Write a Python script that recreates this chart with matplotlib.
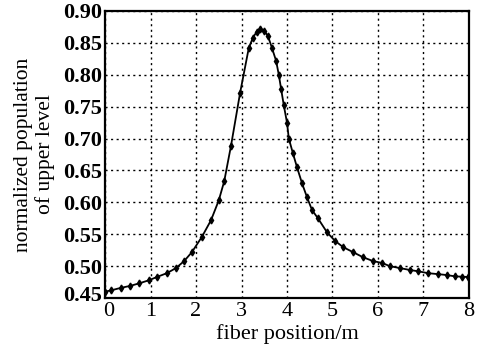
import matplotlib
matplotlib.use("Agg")
import matplotlib.pyplot as plt
import matplotlib.transforms as mtransforms

# fiber position (m) and normalized upper level population
position = [0.00, 0.13, 0.35, 0.55, 0.75, 0.97, 1.14, 1.36, 1.56, 1.74, 1.91,
            2.13, 2.33, 2.50, 2.62, 2.77, 2.97, 3.16, 3.25, 3.33, 3.41, 3.50,
            3.58, 3.67, 3.76, 3.82, 3.87, 3.93, 4.00, 4.04, 4.13, 4.22, 4.33,
            4.44, 4.55, 4.68, 4.88, 5.05, 5.23, 5.45, 5.67, 5.89, 6.09, 6.26,
            6.48, 6.70, 6.88, 7.10, 7.32, 7.52, 7.69, 7.85, 7.98]
population = [0.460, 0.462, 0.466, 0.469, 0.473, 0.478, 0.483, 0.489, 0.497,
              0.508, 0.522, 0.546, 0.572, 0.603, 0.633, 0.689, 0.772, 0.842,
              0.858, 0.867, 0.872, 0.869, 0.861, 0.842, 0.822, 0.800, 0.778,
              0.752, 0.725, 0.700, 0.677, 0.655, 0.630, 0.608, 0.588, 0.575,
              0.553, 0.540, 0.530, 0.522, 0.514, 0.508, 0.505, 0.500, 0.497,
              0.494, 0.492, 0.489, 0.4875, 0.486, 0.484, 0.4835, 0.483]

xticks = [0, 1, 2, 3, 4, 5, 6, 7, 8]
yticks = [0.45, 0.50, 0.55, 0.60, 0.65, 0.70, 0.75, 0.80, 0.85, 0.90]

plt.rcParams['font.family'] = ['Liberation Serif', 'DejaVu Serif']

fig = plt.figure(figsize=(4.83, 3.49), dpi=100)
ax = fig.add_axes([0.2174, 0.146, 0.7536, 0.8225])

ax.plot(position, population, color='black', linewidth=1.3,
        marker='d', markersize=3.5, markerfacecolor='black', markeredgecolor='black')

ax.set_xlim(0, 8)
ax.set_ylim(0.45, 0.90)
ax.set_xticks(xticks)
ax.set_yticks(yticks)
ax.set_xticklabels([str(t) for t in xticks])
ax.set_yticklabels(['%.2f' % t for t in yticks])
ax.tick_params(axis='both', direction='in', length=0)
ax.tick_params(axis='x', labelsize=16, pad=3)
ax.tick_params(axis='y', labelsize=16, pad=2)
for lab in ax.get_yticklabels():
    lab.set_fontweight('bold')

# the corner labels sit a little apart, as in the original
ylab0 = ax.get_yticklabels()[0]
ylab0.set_transform(ylab0.get_transform() +
                    mtransforms.ScaledTranslation(0, 5 / 100, fig.dpi_scale_trans))
xlab0 = ax.get_xticklabels()[0]
xlab0.set_transform(xlab0.get_transform() +
                    mtransforms.ScaledTranslation(4 / 100, 0, fig.dpi_scale_trans))

ax.grid(True, color='black', linestyle=(0, (1.5, 2.5)), linewidth=1.0)
for s in ax.spines.values():
    s.set_linewidth(1.6)
    s.set_color('black')

ax.set_xlabel('fiber position/m', fontsize=16, labelpad=2)
ax.set_ylabel('normalized population\nof upper level', fontsize=15.5, labelpad=6,
              linespacing=1.15)

fig.savefig('out.png', dpi=100)
